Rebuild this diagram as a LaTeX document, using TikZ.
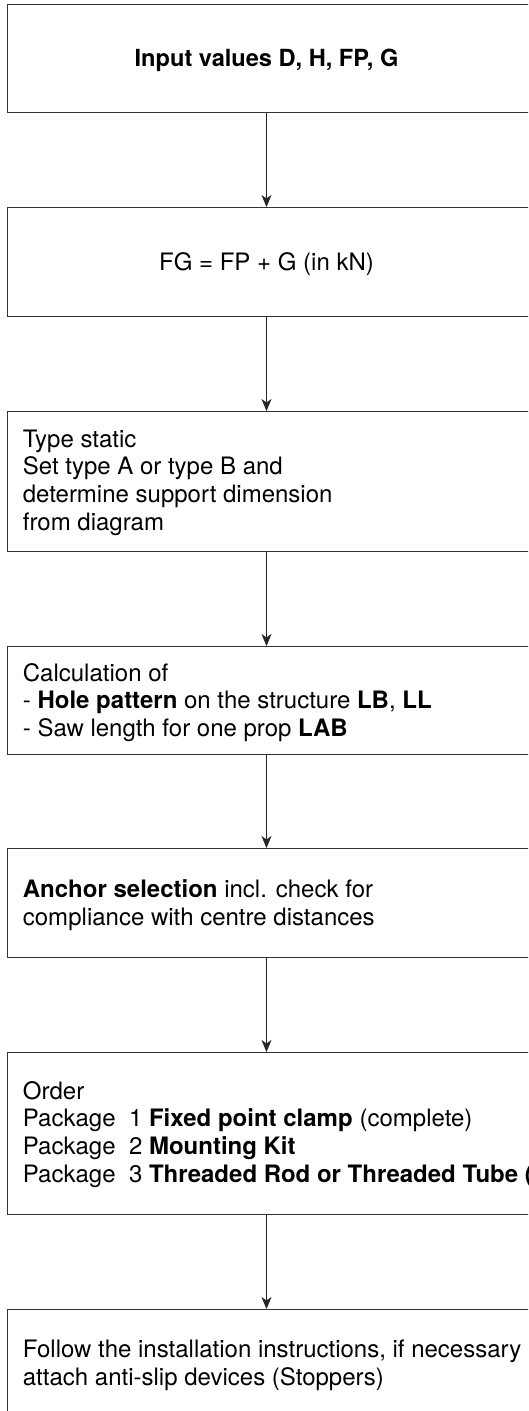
\documentclass[tikz,border=0pt]{standalone}
\usepackage{fontspec}
\setmainfont{TeX Gyre Heros}
\usetikzlibrary{arrows.meta}
\tikzset{
  stepbox/.style={draw=black!80, line width=0.9pt, rectangle, minimum width=600pt, anchor=north west, inner sep=0pt},
  txt/.style={font=\fontsize{24}{27.7}\selectfont, inner sep=0pt, align=left, anchor=west, text=black},
  ctxt/.style={font=\fontsize{24}{27.7}\selectfont, inner sep=0pt, align=center, text=black},
  flow/.style={draw=black!85, line width=0.9pt, -{Stealth[length=12pt,width=10pt,inset=3.5pt]}}
}
\begin{document}
\begin{tikzpicture}[x=1pt,y=-1pt]
\useasboundingbox (0,0) rectangle (528,1411);
\clip (0,0) rectangle (528,1411);
\fill[white] (0,0) rectangle (528,1411);
\coordinate (ax) at (266.5,0);

\node[stepbox, minimum height=108pt] (b1) at (7,4) {};
\node[stepbox, minimum height=109pt] (b2) at (7,207) {};
\node[stepbox, minimum height=140pt] (b3) at (7,411) {};
\node[stepbox, minimum height=108pt] (b4) at (7,646) {};
\node[stepbox, minimum height=109pt] (b5) at (7,848) {};
\node[stepbox, minimum height=162pt] (b6) at (7,1052) {};
\node[stepbox, minimum height=108pt] (b7) at (7,1309) {};

\node[ctxt, font=\fontsize{23.6}{27.7}\selectfont\bfseries] (t1) at ([yshift=-2pt]b1.center -| ax) {Input values D, H, FP, G};
\node[ctxt] (t2) at ([yshift=-2pt]b2.center -| ax) {FG = FP + G (in kN)};
\node[txt] (t3) at ([xshift=15.7pt,yshift=-1pt]b3.west) {Type static\\Set type A or type B and\\determine support dimension\\from diagram};
\node[txt] (t4) at ([xshift=15.7pt,yshift=-2pt]b4.west) {Calculation of\\- \textbf{Hole pattern} on the structure \textbf{LB}, \textbf{LL}\\- Saw length for one prop \textbf{LAB}};
\node[txt] (t5) at ([xshift=15.7pt,yshift=-2pt]b5.west) {\textbf{Anchor selection} incl. check for\\compliance with centre distances};
\node[txt] (t6) at ([xshift=15.7pt,yshift=-1pt]b6.west) {Order\\Package\ \ 1 \textbf{Fixed point clamp} (complete)\\Package\ \ 2 \textbf{Mounting Kit}\\Package\ \ 3 \textbf{Threaded Rod or Threaded Tube (}};
\node[txt] (t7) at ([xshift=15.7pt,yshift=-2pt]b7.west) {Follow the installation instructions, if necessary\\attach anti-slip devices (Stoppers)};

\draw[flow] (b1.south -| ax) -- (b2.north -| ax);
\draw[flow] (b2.south -| ax) -- (b3.north -| ax);
\draw[flow] (b3.south -| ax) -- (b4.north -| ax);
\draw[flow] (b4.south -| ax) -- (b5.north -| ax);
\draw[flow] (b5.south -| ax) -- (b6.north -| ax);
\draw[flow] (b6.south -| ax) -- (b7.north -| ax);
\end{tikzpicture}
\end{document}
